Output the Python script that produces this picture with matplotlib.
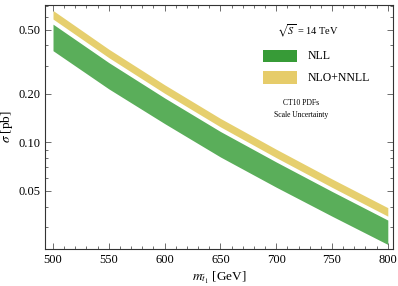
import numpy as np
import matplotlib
matplotlib.use('Agg')
import matplotlib.pyplot as plt
from matplotlib.ticker import FixedLocator, MultipleLocator, NullFormatter
from matplotlib.patches import Rectangle

# stop mass [GeV]
mass = [500, 550, 600, 650, 700, 750, 800]

# NLL band (scale uncertainty) [pb]
nll_hi = [0.542, 0.313, 0.189, 0.117, 0.0757, 0.0497, 0.0330]
nll_lo = [0.371, 0.215, 0.131, 0.0813, 0.0528, 0.0349, 0.0233]

# NLO+NNLL band [pb]
nnll_hi = [0.659, 0.379, 0.228, 0.141, 0.0908, 0.0594, 0.0394]
nnll_lo = [0.583, 0.336, 0.202, 0.125, 0.0805, 0.0527, 0.0349]

y_ticks = [0.05, 0.10, 0.20, 0.50]
y_labels = ['0.05', '0.10', '0.20', '0.50']
x_ticks = [500, 550, 600, 650, 700, 750, 800]

plt.rcParams['font.family'] = ['Liberation Serif', 'DejaVu Serif']
plt.rcParams['mathtext.fontset'] = 'stix'

fig = plt.figure(figsize=(3.98, 2.86), dpi=100)
ax = fig.add_axes([0.113, 0.129, 0.874, 0.854])

green = '#5aae5a'
yellow = '#e6cf6e'
ax.fill_between(mass, nll_lo, nll_hi, color=green, lw=0)
ax.fill_between(mass, nnll_lo, nnll_hi, color=yellow, lw=0)

ax.set_yscale('log')
ax.set_xlim(492.8, 804.5)
ax.set_ylim(0.0218, 0.714)

ax.xaxis.set_major_locator(FixedLocator(x_ticks))
ax.xaxis.set_minor_locator(MultipleLocator(10))
ax.yaxis.set_major_locator(FixedLocator(y_ticks))
ax.yaxis.set_major_formatter(matplotlib.ticker.FixedFormatter(y_labels))
ax.yaxis.set_minor_formatter(NullFormatter())
ax.tick_params(which='both', direction='in', top=True, right=True,
               labelsize=9, color='#555555', width=0.6)
ax.tick_params(which='major', length=4)
ax.tick_params(which='minor', length=2)
for s in ax.spines.values():
    s.set_linewidth(0.8)
    s.set_color('#333333')

ax.set_xlabel(r'$m_{\tilde{t}_1}$ [GeV]', fontsize=9.5, labelpad=3)
ax.set_ylabel(r'$\sigma$ [pb]', fontsize=9.5, labelpad=2)

# legend drawn as text and swatches
ax.text(0.755, 0.893, r'$\sqrt{S}$ = 14 TeV', transform=ax.transAxes,
        fontsize=7.5, ha='center', va='center')
ax.add_patch(Rectangle((0.627, 0.768), 0.098, 0.046, transform=ax.transAxes,
                       color='#379b37', lw=0))
ax.add_patch(Rectangle((0.627, 0.675), 0.098, 0.053, transform=ax.transAxes,
                       color='#e6cc6a', lw=0))
ax.text(0.755, 0.792, 'NLL', transform=ax.transAxes, fontsize=8.5,
        va='center')
ax.text(0.755, 0.700, 'NLO+NNLL', transform=ax.transAxes, fontsize=8.5,
        va='center')
ax.text(0.735, 0.597, 'CT10 PDFs', transform=ax.transAxes, fontsize=5.5,
        ha='center', va='center')
ax.text(0.735, 0.548, 'Scale Uncertainty', transform=ax.transAxes,
        fontsize=5.5, ha='center', va='center')

plt.savefig('out.png', dpi=100)
plt.close()
